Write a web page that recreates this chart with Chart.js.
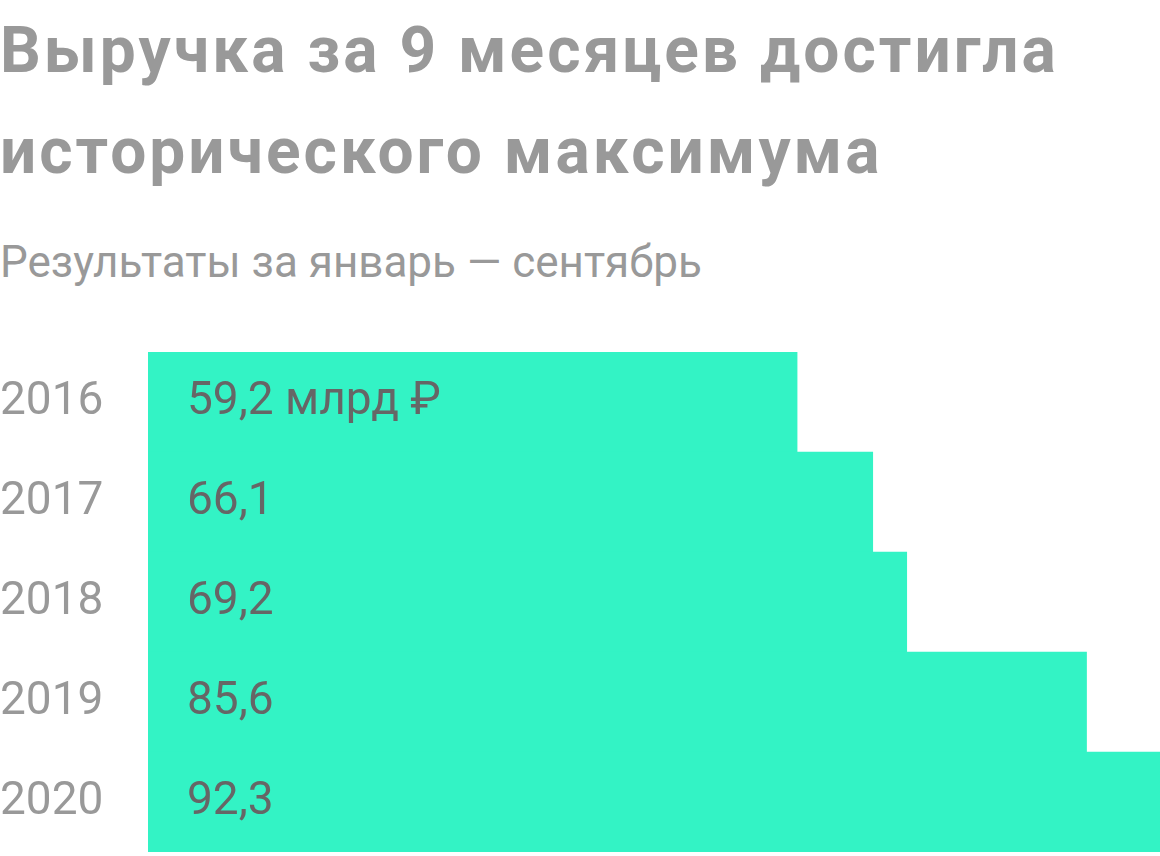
<!DOCTYPE html>
<html>
<head>
<meta charset="utf-8">
<script src="https://cdn.jsdelivr.net/npm/chart.js@4"></script>
<style>
  body { margin: 0; background: #fff; font-family: Roboto, sans-serif; }
  #title { position: absolute; left: 0; top: 0; font-size: 64px; font-weight: 700; color: #999; line-height: 101px; letter-spacing: 3px; white-space: nowrap; }
  #subtitle { position: absolute; left: 0; top: 236px; font-size: 44px; color: #999; line-height: 52px; white-space: nowrap; }
  #wrap { position: absolute; left: 0; top: 352px; width: 1160px; height: 500px; }
</style>
</head>
<body>
<div id="title">Выручка за 9 месяцев достигла<br>исторического максимума</div>
<div id="subtitle">Результаты за январь — сентябрь</div>
<div id="wrap"><canvas id="myChart" width="1160" height="500"></canvas></div>
<script>
// выручка за январь - сентябрь, млрд руб
const years = ["2016", "2017", "2018", "2019", "2020"];
const revenue = [59.2, 66.1, 69.2, 85.6, 92.3];
const valueLabels = ["59,2 млрд ₽", "66,1", "69,2", "85,6", "92,3"];

const barLabels = {
  id: "barLabels",
  afterDatasetsDraw(chart) {
    const ctx = chart.ctx;
    const meta = chart.getDatasetMeta(0);
    const x0 = chart.scales.x.getPixelForValue(0);
    ctx.save();
    ctx.font = "46px Roboto";
    ctx.fillStyle = "#666";
    ctx.textBaseline = "middle";
    ctx.textAlign = "left";
    meta.data.forEach((bar, i) => {
      ctx.fillText(valueLabels[i], x0 + 39, bar.y);
    });
    ctx.restore();
  },
};

const ctx = document.getElementById("myChart").getContext("2d");
const myChart = new Chart(ctx, {
  type: "bar",
  data: {
    labels: years,
    datasets: [
      {
        data: revenue,
        backgroundColor: "#33f3c5",
        borderWidth: 0,
        categoryPercentage: 1,
        barPercentage: 1,
      },
    ],
  },
  options: {
    indexAxis: "y",
    responsive: false,
    animation: false,
    layout: { padding: 0 },
    plugins: {
      legend: { display: false },
      tooltip: { enabled: false },
    },
    scales: {
      x: { display: false, min: 0, max: 92.3 },
      y: {
        grid: { display: false, drawTicks: false },
        border: { display: false },
        afterFit(scale) {
          scale.width = 148;
          // labels sit inside their bands, no extra room needed
          scale.paddingTop = 0;
          scale.paddingBottom = 0;
        },
        ticks: {
          crossAlign: "far",
          padding: 0,
          color: "#999",
          font: { family: "Roboto", size: 46 },
        },
      },
    },
  },
  plugins: [barLabels],
});
</script>
</body>
</html>
